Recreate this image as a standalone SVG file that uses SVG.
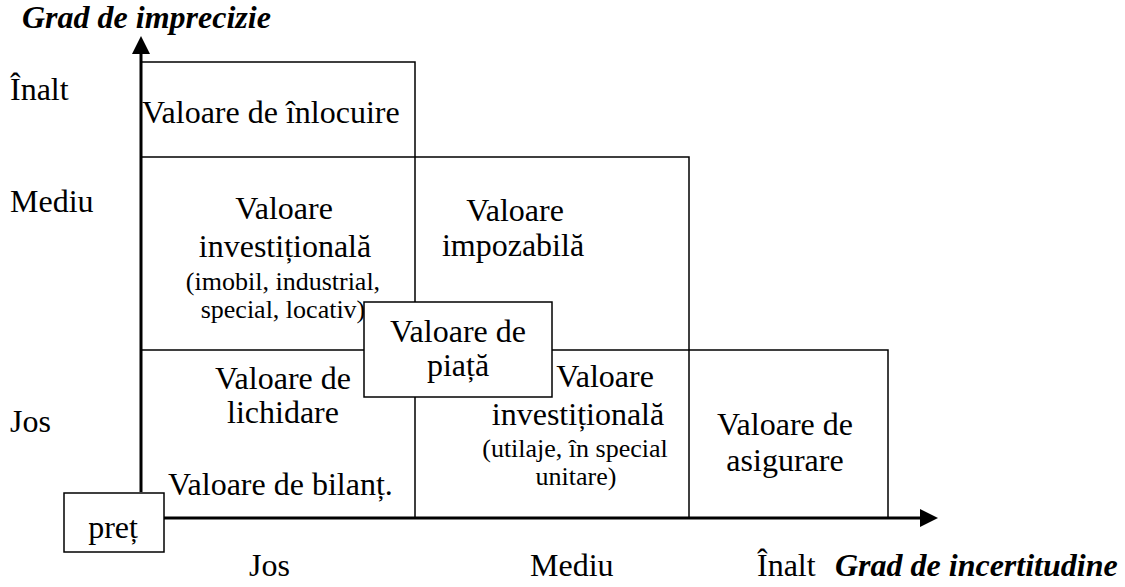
<svg xmlns="http://www.w3.org/2000/svg" width="1125" height="587" viewBox="0 0 1125 587">
<style>
text{font-family:"Liberation Serif","Times New Roman",serif;fill:#000}
.m{font-size:32px}
.s{font-size:26px}
.t{font-size:32px;font-weight:bold;font-style:italic}
.c{text-anchor:middle}
.b{fill:none;stroke:#000;stroke-width:1.5}
.box{fill:#fff;stroke:#000;stroke-width:1.5}
.ax{stroke:#000;stroke-width:3;fill:none}
</style>
<defs>
<marker id="ah" markerWidth="6" markerHeight="6" refX="0" refY="3" orient="auto" markerUnits="strokeWidth">
<path d="M0,0 L6,3 L0,6 Z" fill="#000"/>
</marker>
</defs>
<rect width="1125" height="587" fill="#fff"/>
<g id="cells">
<path class="b" d="M141,62 H415 V518 M141,157 H689 V518 M141,350 H888 V518"/>
</g>
<g id="connectors">
<line class="ax" x1="141" y1="492" x2="141" y2="54" marker-end="url(#ah)"/>
<line class="ax" x1="164" y1="518" x2="920" y2="518" marker-end="url(#ah)"/>
</g>
<g id="axis-labels">
<text class="t" x="22" y="28">Grad de imprecizie</text>
<text class="m" x="10" y="100">Înalt</text>
<text class="m" x="10" y="212">Mediu</text>
<text class="m" x="10" y="432">Jos</text>
<text class="m" x="249" y="576">Jos</text>
<text class="m" x="530" y="576">Mediu</text>
<text class="m" x="757" y="576">Înalt</text>
<text class="t" x="835" y="576">Grad de incertitudine</text>
</g>
<g id="n-inlocuire">
<text class="m" x="142" y="123">Valoare de înlocuire</text>
</g>
<g id="n-investitionala1">
<text class="m c" x="284" y="219">Valoare</text>
<text class="m c" x="285" y="257">investițională</text>
<text class="s c" x="283" y="290">(imobil, industrial,</text>
<text class="s c" x="283" y="318">special, locativ)</text>
</g>
<g id="n-impozabila">
<text class="m c" x="515" y="221">Valoare</text>
<text class="m c" x="513" y="256">impozabilă</text>
</g>
<g id="n-lichidare">
<text class="m c" x="283" y="389">Valoare de</text>
<text class="m c" x="283" y="423">lichidare</text>
</g>
<g id="n-investitionala2">
<text class="m c" x="605" y="387">Valoare</text>
<text class="m c" x="578" y="425">investițională</text>
<text class="s c" x="575" y="457">(utilaje, în special</text>
<text class="s c" x="576" y="485">unitare)</text>
</g>
<g id="n-bilant">
<text class="m" x="168" y="495">Valoare de bilanț.</text>
</g>
<g id="n-asigurare">
<text class="m c" x="785" y="435">Valoare de</text>
<text class="m c" x="785" y="471">asigurare</text>
</g>
<g id="n-piata">
<rect class="box" x="364" y="302" width="188" height="95"/>
<text class="m c" x="458" y="342">Valoare de</text>
<text class="m c" x="458" y="376">piață</text>
</g>
<g id="n-pret">
<rect class="box" x="64" y="493" width="100" height="59"/>
<text class="m c" x="113" y="538">preț</text>
</g>
</svg>
